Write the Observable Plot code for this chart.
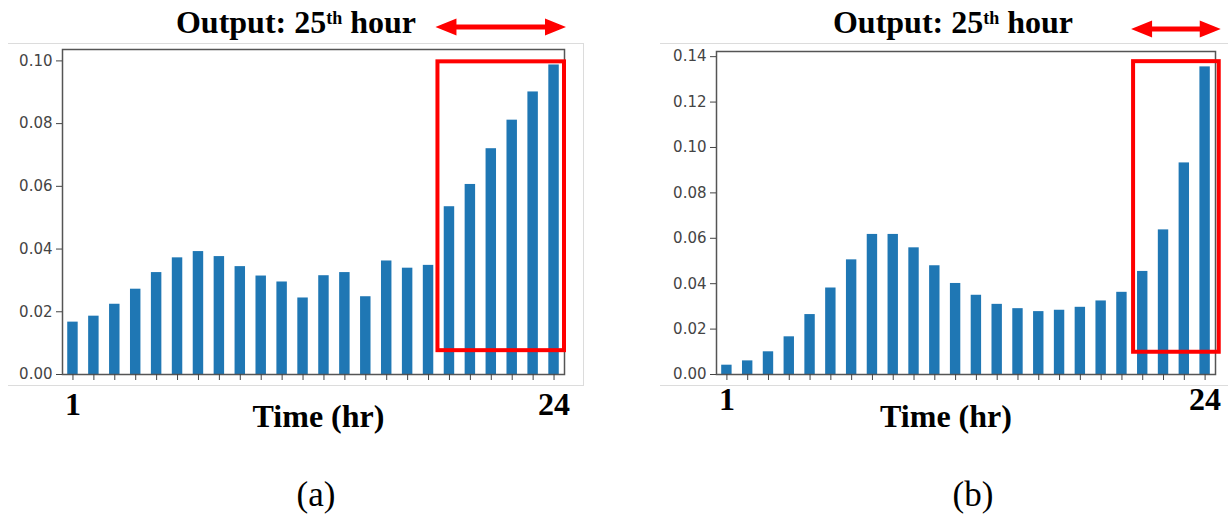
<!DOCTYPE html>
<html>
<head>
<meta charset="utf-8">
<script src="https://cdn.jsdelivr.net/npm/d3@7"></script>
<script src="https://cdn.jsdelivr.net/npm/@observablehq/plot@0.6"></script>
<style>
  html, body { margin: 0; padding: 0; background: #fff; }
  #fig { position: relative; width: 1228px; height: 516px; overflow: hidden; }
  .abs { position: absolute; }
  .serif { font-family: "Liberation Serif", "Times New Roman", serif; color: #000; line-height: 1; white-space: nowrap; text-align: center; }
  .title { font-size: 32px; font-weight: bold; }
  .caption { font-size: 35px; }
  .sup { font-size: 18px; position: relative; top: -9px; }
</style>
</head>
<body>
<div id="fig">
  <div class="abs" style="left:8px; top:43px; width:575px; height:341px; border-top:1px solid #dcdcdc; border-bottom:1px solid #dcdcdc; border-right:1px solid #dcdcdc;"></div>
  <div class="abs" style="left:660px; top:43px; width:568px; height:341px; border-top:1px solid #dcdcdc; border-bottom:1px solid #dcdcdc;"></div>
  <div id="panelA" class="abs" style="left:0; top:0;"></div>
  <div id="panelB" class="abs" style="left:614px; top:0;"></div>
  <div class="abs serif title" style="left:96px; top:6px; width:400px;">Output: 25<span class="sup">th</span> hour</div>
  <div class="abs serif title" style="left:753px; top:6px; width:400px;">Output: 25<span class="sup">th</span> hour</div>
  <div class="abs serif caption" style="left:216px; top:477px; width:200px;">(a)</div>
  <div class="abs serif caption" style="left:873px; top:477px; width:200px;">(b)</div>
</div>
<script>
// ---- data ----
const hours = [1, 2, 3, 4, 5, 6, 7, 8, 9, 10, 11, 12, 13, 14, 15, 16, 17, 18, 19, 20, 21, 22, 23, 24];
const valuesA = [0.0167, 0.0186, 0.0224, 0.0272, 0.0325, 0.0372, 0.0392, 0.0376, 0.0344, 0.0314, 0.0295, 0.0244,
                 0.0315, 0.0325, 0.0248, 0.0362, 0.0339, 0.0348, 0.0535, 0.0606, 0.0720, 0.0811, 0.0901, 0.0987];
const valuesB = [0.0041, 0.0060, 0.0100, 0.0166, 0.0264, 0.0381, 0.0505, 0.0617, 0.0617, 0.0558, 0.0479, 0.0401,
                 0.0349, 0.0309, 0.0290, 0.0277, 0.0283, 0.0296, 0.0324, 0.0362, 0.0454, 0.0637, 0.0932, 0.1355];
const yTicksA = [0, 0.02, 0.04, 0.06, 0.08, 0.10];
const yTicksB = [0, 0.02, 0.04, 0.06, 0.08, 0.10, 0.12, 0.14];
const xLabelTicks = [1, 24];
const axisTitle = "Time (hr)";
// highlighted window (in hour units) and its value range
const highlightA = {h1: 18.45, h2: 24.5, v1: 0.0076, v2: 0.0997};
const highlightB = {h1: 20.56, h2: 24.68, v1: 0.0098, v2: 0.1378};

const BLUE = "#1f77b4";
const RED = "#ff0000";

function highlightMark(hl) {
  return (index, scales, values, dims) => {
    const x = scales.x, y = scales.y;
    const bw = x.bandwidth ? x.bandwidth() : 0;
    const step = x(hours[1]) - x(hours[0]);
    const hx = (h) => x(hours[0]) + bw / 2 + (h - hours[0]) * step;
    const sw = 4;
    const X1 = hx(hl.h1), X2 = hx(hl.h2);
    const Y1 = y(hl.v2), Y2 = y(hl.v1);
    const g = d3.create("svg:g");
    g.append("rect")
      .attr("x", X1).attr("y", Y1)
      .attr("width", X2 - X1).attr("height", Y2 - Y1)
      .attr("fill", "none").attr("stroke", RED).attr("stroke-width", sw);
    // double-headed arrow above the frame
    const ax1 = X1 - sw / 2, ax2 = X2 + sw / 2;
    const cy = dims.marginTop - 22;
    const hl_ = 21, hh = 17, st = 5;
    const pts = [
      [ax1, cy], [ax1 + hl_, cy - hh / 2], [ax1 + hl_, cy - st / 2], [ax2 - hl_, cy - st / 2],
      [ax2 - hl_, cy - hh / 2], [ax2, cy], [ax2 - hl_, cy + hh / 2], [ax2 - hl_, cy + st / 2],
      [ax1 + hl_, cy + st / 2], [ax1 + hl_, cy + hh / 2]
    ];
    g.append("polygon").attr("points", pts.map(p => p.join(",")).join(" ")).attr("fill", RED);
    return g.node();
  };
}

function panel({values, yTicks, width, marginLeft, marginRight, marginTop, hl, labelPad, titleDx, titleDy}) {
  const data = hours.map((h, i) => ({hour: h, value: values[i]}));
  return Plot.plot({
    width, height: 440,
    marginLeft, marginRight, marginTop, marginBottom: 66,
    style: {background: "none", overflow: "visible"},
    x: {type: "band", domain: hours, paddingInner: 0.5, paddingOuter: 0.25, round: false},
    y: {domain: [0, d3.max(values) * 1.05]},
    marks: [
      Plot.barY(data, {x: "hour", y: "value", fill: BLUE}),
      Plot.frame({stroke: "#555", strokeWidth: 1.5}),
      Plot.axisY({ticks: yTicks, tickSize: 6, tickPadding: 4, tickFormat: d3.format(".2f"),
                  fontSize: 15, fontFamily: "DejaVu Sans", color: "#444", label: null}),
      Plot.axisX({tickSize: 6, tickFormat: () => "", color: "#444", label: null}),
      Plot.axisX({ticks: xLabelTicks, tickSize: 0, tickPadding: labelPad, fontSize: 32, fontWeight: "bold",
                  fontFamily: "Liberation Serif", color: "#000", label: null}),
      Plot.text([axisTitle], {text: d => d, frameAnchor: "bottom", lineAnchor: "bottom", dx: titleDx, dy: titleDy,
                  fontSize: 32, fontWeight: "bold", fontFamily: "Liberation Serif", fill: "#000"}),
      highlightMark(hl)
    ]
  });
}

document.getElementById("panelA").appendChild(panel({
  values: valuesA, yTicks: yTicksA, width: 600, marginLeft: 62, marginRight: 36, marginTop: 49,
  hl: highlightA, labelPad: 18, titleDx: 5, titleDy: 52
}));
document.getElementById("panelB").appendChild(panel({
  values: valuesB, yTicks: yTicksB, width: 614, marginLeft: 102, marginRight: 13, marginTop: 51,
  hl: highlightB, labelPad: 13, titleDx: -20, titleDy: 52
}));
</script>
</body>
</html>
